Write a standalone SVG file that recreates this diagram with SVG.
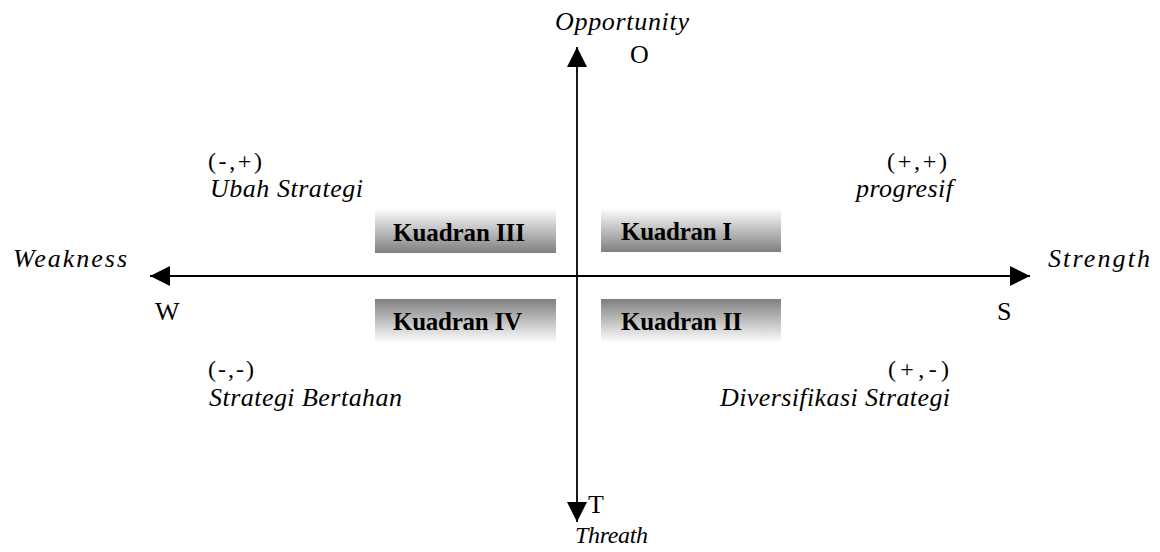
<svg xmlns="http://www.w3.org/2000/svg" width="1160" height="552" viewBox="0 0 1160 552">
<style>
.ax{stroke:#000;stroke-width:1.8;fill:none}
text{font-family:"Liberation Serif","Times New Roman","DejaVu Serif",serif;fill:#000}
.t{font-size:26px}
.p{font-size:24px}
.i{font-style:italic}
.c{font-style:italic;font-size:26px}
.k{font-weight:bold;font-size:25px}
</style>
<defs>
<marker id="ah" markerUnits="userSpaceOnUse" markerWidth="20" markerHeight="20" refX="20" refY="10" orient="auto">
<path d="M0,0 L20,10 L0,20 Z" fill="#000"/>
</marker>
<linearGradient id="gUp" x1="0" y1="0" x2="0" y2="1">
<stop offset="0" stop-color="#ffffff"/><stop offset="1" stop-color="#7f7f7f"/>
</linearGradient>
<linearGradient id="gDn" x1="0" y1="0" x2="0" y2="1">
<stop offset="0" stop-color="#7f7f7f"/><stop offset="1" stop-color="#ffffff"/>
</linearGradient>
</defs>
<rect width="1160" height="552" fill="#fff"/>
<g id="connectors">
<line class="ax" x1="577" y1="276" x2="577" y2="47" marker-end="url(#ah)"/>
<line class="ax" x1="577" y1="276" x2="577" y2="522" marker-end="url(#ah)"/>
<line class="ax" x1="577" y1="276" x2="150" y2="276" marker-end="url(#ah)"/>
<line class="ax" x1="577" y1="276" x2="1030" y2="276" marker-end="url(#ah)"/>
</g>
<g id="axis-labels">
<text class="t i" x="555" y="30" textLength="134">Opportunity</text>
<text class="t" x="630" y="63">O</text>
<text class="t" x="588" y="513">T</text>
<text class="t i" x="575" y="543" style="font-size:24px" textLength="73">Threath</text>
<text class="t i" x="13" y="267" textLength="114">Weakness</text>
<text class="t i" x="1048" y="267" textLength="102">Strength</text>
<text class="t" x="155" y="320">W</text>
<text class="t" x="997" y="320">S</text>
</g>
<g id="kuadran3">
<rect x="375" y="208" width="181" height="45" fill="url(#gUp)"/>
<text class="k" x="393" y="241" textLength="132">Kuadran III</text>
</g>
<g id="kuadran1">
<rect x="601" y="208" width="180" height="44" fill="url(#gUp)"/>
<text class="k" x="621" y="240" textLength="111">Kuadran I</text>
</g>
<g id="kuadran4">
<rect x="375" y="299" width="181" height="44" fill="url(#gDn)"/>
<text class="k" x="393" y="330" textLength="129">Kuadran IV</text>
</g>
<g id="kuadran2">
<rect x="601" y="299" width="180" height="44" fill="url(#gDn)"/>
<text class="k" x="621" y="330" textLength="121">Kuadran II</text>
</g>
<g id="q3-label">
<text class="p" x="208" y="169" textLength="54">(-,+)</text>
<text class="c" x="210" y="197" textLength="153">Ubah Strategi</text>
</g>
<g id="q1-label">
<text class="p" x="887" y="169" textLength="60">(+,+)</text>
<text class="c" x="856" y="197" textLength="97">progresif</text>
</g>
<g id="q4-label">
<text class="p" x="208" y="377" textLength="46">(-,-)</text>
<text class="c" x="209" y="406" textLength="193">Strategi Bertahan</text>
</g>
<g id="q2-label">
<text class="p" x="888" y="377" textLength="61">(+,-)</text>
<text class="c" x="720" y="406" textLength="230">Diversifikasi Strategi</text>
</g>
</svg>
